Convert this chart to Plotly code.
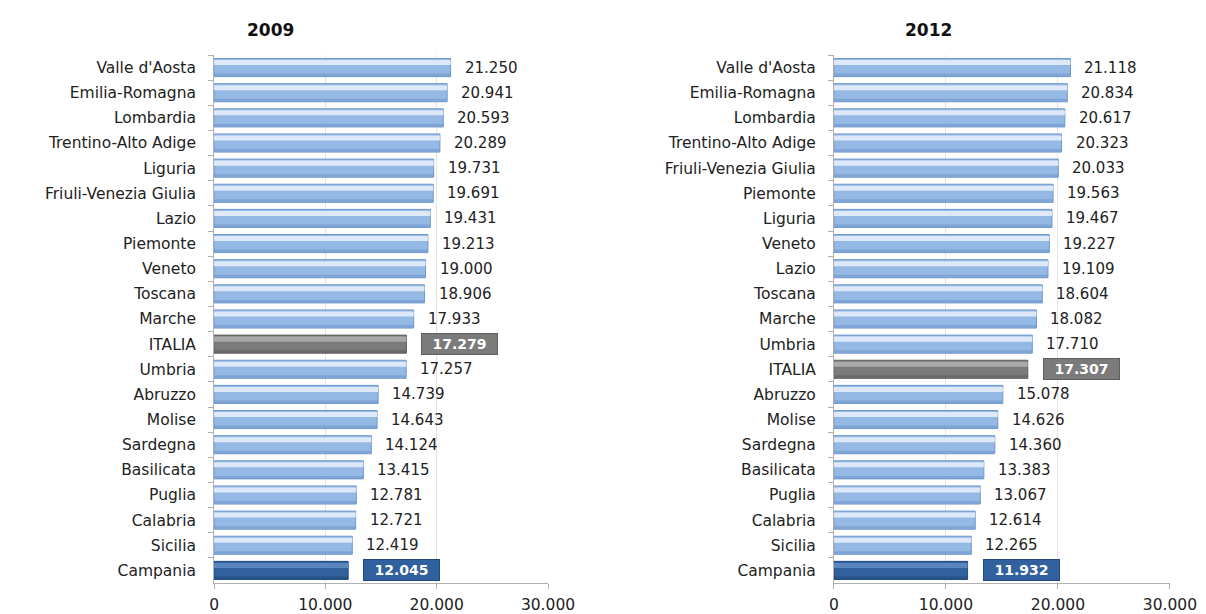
import plotly.graph_objects as go

# Regioni ordinate per reddito (2009)
regions_2009 = ["Valle d'Aosta", "Emilia-Romagna", "Lombardia", "Trentino-Alto Adige", "Liguria",
                "Friuli-Venezia Giulia", "Lazio", "Piemonte", "Veneto", "Toscana", "Marche", "ITALIA",
                "Umbria", "Abruzzo", "Molise", "Sardegna", "Basilicata", "Puglia", "Calabria",
                "Sicilia", "Campania"]
values_2009 = [21250, 20941, 20593, 20289, 19731, 19691, 19431, 19213, 19000, 18906, 17933, 17279,
               17257, 14739, 14643, 14124, 13415, 12781, 12721, 12419, 12045]

# Regioni ordinate per reddito (2012)
regions_2012 = ["Valle d'Aosta", "Emilia-Romagna", "Lombardia", "Trentino-Alto Adige",
                "Friuli-Venezia Giulia", "Piemonte", "Liguria", "Veneto", "Lazio", "Toscana", "Marche",
                "Umbria", "ITALIA", "Abruzzo", "Molise", "Sardegna", "Basilicata", "Puglia", "Calabria",
                "Sicilia", "Campania"]
values_2012 = [21118, 20834, 20617, 20323, 20033, 19563, 19467, 19227, 19109, 18604, 18082, 17710,
               17307, 15078, 14626, 14360, 13383, 13067, 12614, 12265, 11932]

titles = ["2009", "2012"]
x_ticks = [0, 10000, 20000, 30000]

# colori: corpo, riflesso superiore, bordo
BLUE = ("#95b9e5", "#dde9f8", "#6f98cc")
GREY = ("#7b7b7b", "#a9a9a9", "#5e5e5e")
DARK = ("#30609e", "#5a86bf", "#22497c")


def palette(name):
    if name == "ITALIA":
        return GREY
    if name == "Campania":
        return DARK
    return BLUE


fig = go.Figure()
datasets = [(regions_2009, values_2009), (regions_2012, values_2012)]
x_domains = [[0.1775, 0.4544], [0.6915, 0.9701]]
title_x = [0.224, 0.770]
y_domain = [0.0505, 0.9104]

for i, (regs, vals) in enumerate(datasets):
    xa = "x" if i == 0 else "x2"
    ya = "y" if i == 0 else "y2"
    cols = [palette(r) for r in regs]
    # corpo della barra
    fig.add_trace(go.Bar(
        y=regs, x=vals, orientation="h", xaxis=xa, yaxis=ya,
        width=0.72, offset=-0.36,
        marker=dict(color=[c[0] for c in cols], line=dict(color=[c[2] for c in cols], width=1)),
        hoverinfo="skip", showlegend=False))
    # riflesso chiaro nella parte alta
    fig.add_trace(go.Bar(
        y=regs, x=vals, orientation="h", xaxis=xa, yaxis=ya,
        width=0.2, offset=-0.3,
        marker=dict(color=[c[1] for c in cols], line=dict(width=0)),
        hoverinfo="skip", showlegend=False))
    # ombra nella parte bassa
    fig.add_trace(go.Bar(
        y=regs, x=vals, orientation="h", xaxis=xa, yaxis=ya,
        width=0.1, offset=0.24,
        marker=dict(color=[c[2] for c in cols], line=dict(width=0), opacity=0.6),
        hoverinfo="skip", showlegend=False))

    # etichette dei valori
    for r, v in zip(regs, vals):
        txt = f"{v:,}".replace(",", ".")
        if r in ("ITALIA", "Campania"):
            c = palette(r)
            fig.add_annotation(
                x=v, y=r, xref=xa, yref=ya, xanchor="left", xshift=15,
                text=f"<b>{txt}</b>", showarrow=False,
                font=dict(family="DejaVu Sans", size=14, color="white"),
                bgcolor=c[0], bordercolor=c[2], borderwidth=1,
                width=73, height=18, align="center")
        else:
            fig.add_annotation(
                x=v, y=r, xref=xa, yref=ya, xanchor="left", xshift=12,
                text=txt, showarrow=False,
                font=dict(family="DejaVu Sans", size=15, color="#222222"))

    fig.add_annotation(
        x=title_x[i], y=0.951, xref="paper", yref="paper",
        xanchor="center", yanchor="middle",
        text=f"<b>{titles[i]}</b>", showarrow=False,
        font=dict(family="DejaVu Sans", size=17, color="#111111"))

axis_x = dict(range=[0, 30000], tickvals=x_ticks,
              ticktext=[f"{t:,}".replace(",", ".") for t in x_ticks],
              showgrid=True, gridcolor="#e3e3e3", gridwidth=1,
              showline=True, linecolor="#b0b0b0", ticks="outside", ticklen=5,
              tickcolor="#b0b0b0", zeroline=False, automargin=False,
              tickfont=dict(family="DejaVu Sans", size=15.5, color="#222222"), ticklabelstandoff=2)
axis_y = dict(type="category", autorange="reversed", showline=True, linecolor="#b0b0b0",
              ticks="outside", ticklen=5, tickcolor="#b0b0b0", tickson="boundaries",
              showgrid=False, domain=y_domain, automargin=False, ticklabelstandoff=14,
              tickfont=dict(family="DejaVu Sans", size=15.5, color="#222222"))

fig.update_layout(
    width=1206, height=614, margin=dict(l=0, r=0, t=0, b=0, pad=0), autosize=False,
    paper_bgcolor="white", plot_bgcolor="white",
    barmode="overlay", bargap=0.28,
    xaxis=dict(axis_x, domain=x_domains[0], anchor="y"),
    yaxis=dict(axis_y, anchor="x"),
    xaxis2=dict(axis_x, domain=x_domains[1], anchor="y2"),
    yaxis2=dict(axis_y, anchor="x2"),
)

fig.write_html("out.html")
